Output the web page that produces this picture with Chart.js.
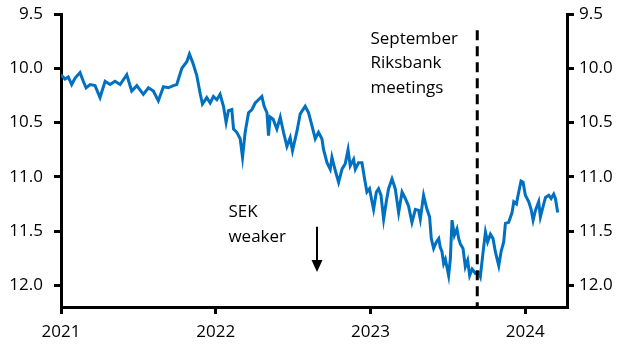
<!DOCTYPE html>
<html>
<head>
<meta charset="utf-8">
<script src="https://cdn.jsdelivr.net/npm/chart.js@4/dist/chart.umd.min.js"></script>
<style>
  html, body { margin: 0; padding: 0; background: #fff; }
  canvas { display: block; }
</style>
</head>
<body>
<canvas id="c" width="631" height="355"></canvas>
<script>
// ---- Data ----
// EUR/SEK, x = decimal year, y = rate (axis inverted: SEK weaker downward)
const dates = [
  2021.000, 2021.026, 2021.047, 2021.069, 2021.091, 2021.123, 2021.144, 2021.162, 2021.188, 2021.220,
  2021.252, 2021.285, 2021.317, 2021.349, 2021.382, 2021.425, 2021.457, 2021.490, 2021.532, 2021.565,
  2021.597, 2021.629, 2021.662, 2021.694, 2021.726, 2021.748, 2021.781, 2021.813, 2021.830, 2021.852,
  2021.878, 2021.899, 2021.914, 2021.942, 2021.964, 2021.985, 2022.007, 2022.028, 2022.050, 2022.067,
  2022.082, 2022.104, 2022.115, 2022.136, 2022.158, 2022.173, 2022.190, 2022.212, 2022.234, 2022.255,
  2022.276, 2022.298, 2022.313, 2022.331, 2022.341, 2022.352, 2022.371, 2022.395, 2022.417, 2022.438,
  2022.460, 2022.481, 2022.496, 2022.525, 2022.546, 2022.578, 2022.600, 2022.622, 2022.643, 2022.664,
  2022.686, 2022.697, 2022.719, 2022.740, 2022.751, 2022.772, 2022.794, 2022.816, 2022.837, 2022.855,
  2022.869, 2022.891, 2022.902, 2022.923, 2022.945, 2022.962, 2022.977, 2022.994, 2023.010, 2023.020,
  2023.038, 2023.052, 2023.068, 2023.085, 2023.102, 2023.117, 2023.139, 2023.160, 2023.182, 2023.204,
  2023.225, 2023.246, 2023.268, 2023.290, 2023.311, 2023.322, 2023.343, 2023.365, 2023.382, 2023.393,
  2023.408, 2023.426, 2023.441, 2023.451, 2023.462, 2023.473, 2023.484, 2023.505, 2023.516, 2023.527,
  2023.542, 2023.559, 2023.570, 2023.581, 2023.598, 2023.613, 2023.628, 2023.641, 2023.657, 2023.678,
  2023.699, 2023.710, 2023.728, 2023.743, 2023.757, 2023.775, 2023.792, 2023.807, 2023.829, 2023.844,
  2023.861, 2023.872, 2023.893, 2023.915, 2023.926, 2023.943, 2023.958, 2023.973, 2023.986, 2024.001,
  2024.023, 2024.038, 2024.051, 2024.066, 2024.087, 2024.098, 2024.116, 2024.131, 2024.152, 2024.167,
  2024.184, 2024.195, 2024.210
];
const eurSek = [
  10.06, 10.10, 10.08, 10.15, 10.09, 10.04, 10.12, 10.18, 10.15, 10.16,
  10.27, 10.12, 10.15, 10.12, 10.15, 10.06, 10.21, 10.16, 10.24, 10.18,
  10.21, 10.30, 10.17, 10.18, 10.16, 10.15, 10.00, 9.94, 9.87, 9.95,
  10.07, 10.23, 10.33, 10.27, 10.32, 10.26, 10.29, 10.24, 10.35, 10.50,
  10.39, 10.38, 10.56, 10.59, 10.65, 10.82, 10.59, 10.41, 10.38, 10.32,
  10.29, 10.26, 10.35, 10.41, 10.62, 10.45, 10.47, 10.56, 10.45, 10.59,
  10.72, 10.64, 10.76, 10.58, 10.42, 10.35, 10.41, 10.53, 10.65, 10.59,
  10.65, 10.75, 10.87, 10.93, 10.82, 10.94, 11.05, 10.93, 10.88, 10.75,
  10.90, 10.84, 10.93, 10.87, 10.87, 11.02, 11.14, 11.11, 11.23, 11.30,
  11.14, 11.11, 11.17, 11.39, 11.23, 11.11, 11.02, 11.11, 11.33, 11.14,
  11.20, 11.27, 11.42, 11.30, 11.31, 11.39, 11.17, 11.30, 11.37, 11.57,
  11.66, 11.60, 11.57, 11.65, 11.69, 11.80, 11.76, 11.91, 11.76, 11.40,
  11.54, 11.48, 11.57, 11.62, 11.66, 11.83, 11.77, 11.91, 11.85, 11.89,
  11.88, 11.92, 11.69, 11.51, 11.60, 11.53, 11.57, 11.69, 11.82, 11.69,
  11.60, 11.43, 11.42, 11.33, 11.23, 11.25, 11.14, 11.04, 11.05, 11.17,
  11.23, 11.30, 11.40, 11.31, 11.23, 11.37, 11.27, 11.19, 11.17, 11.20,
  11.16, 11.20, 11.33
];
const xTickYears = [2021, 2022, 2023, 2024];
const yTickValues = [9.5, 10.0, 10.5, 11.0, 11.5, 12.0];
const meetingDate = 2023.69;            // September Riksbank meeting
const meetingLineRange = [9.65, 12.2];  // vertical extent of dashed line
const meetingLabel = ['September', 'Riksbank', 'meetings'];
const meetingLabelPos = { x: 2023.0, y: 9.775 };
const sekLabel = ['SEK', 'weaker'];
const sekLabelPos = { x: 2022.082, y: 11.37 };
const arrowPos = { x: 2022.654, from: 11.46, to: 11.877 };

// ---- Chart ----
const FONT = '"Open Sans", "Noto Sans", sans-serif';
const annotPlugin = {
  id: 'annot',
  afterDatasetsDraw(chart) {
    const { ctx, scales: { x, y } } = chart;
    ctx.save();
    ctx.fillStyle = '#000';
    ctx.font = '17px ' + FONT;
    ctx.textBaseline = 'alphabetic';
    ctx.textAlign = 'left';
    const mx = x.getPixelForValue(meetingLabelPos.x);
    const my = y.getPixelForValue(meetingLabelPos.y);
    meetingLabel.forEach((t, i) => ctx.fillText(t, mx, my + i * 24.4));
    const sx = x.getPixelForValue(sekLabelPos.x);
    const sy = y.getPixelForValue(sekLabelPos.y);
    sekLabel.forEach((t, i) => ctx.fillText(t, sx, sy + i * 24.6));
    // arrow
    const ax = Math.round(x.getPixelForValue(arrowPos.x));
    const ay1 = y.getPixelForValue(arrowPos.from);
    const ay2 = y.getPixelForValue(arrowPos.to);
    ctx.strokeStyle = '#000';
    ctx.lineWidth = 2;
    ctx.beginPath(); ctx.moveTo(ax, ay1); ctx.lineTo(ax, ay2 - 10); ctx.stroke();
    ctx.beginPath();
    ctx.moveTo(ax - 5.5, ay2 - 12); ctx.lineTo(ax + 5.5, ay2 - 12); ctx.lineTo(ax, ay2);
    ctx.closePath(); ctx.fill();
    ctx.restore();
  }
};

const axisCommon = {
  border: { display: true, width: 3, color: '#000' },
  grid: { drawOnChartArea: false, drawTicks: true, tickLength: 7, lineWidth: 3, color: '#000' },
};

new Chart(document.getElementById('c'), {
  type: 'line',
  data: {
    datasets: [
      {
        data: dates.map((d, i) => ({ x: d, y: eurSek[i] })),
        borderColor: '#0070C0',
        borderWidth: 3,
        pointRadius: 0,
        tension: 0,
        yAxisID: 'y',
        order: 2
      },
      {
        data: [{ x: meetingDate, y: meetingLineRange[0] }, { x: meetingDate, y: meetingLineRange[1] }],
        borderColor: '#000',
        borderWidth: 3,
        borderDash: [10, 6],
        pointRadius: 0,
        yAxisID: 'y',
        clip: false,
        order: 1
      }
    ]
  },
  options: {
    responsive: false,
    animation: false,
    devicePixelRatio: 1,
    layout: { padding: { top: 14, left: 0, right: 0, bottom: 0 } },
    plugins: { legend: { display: false }, tooltip: { enabled: false } },
    scales: {
      x: {
        type: 'linear',
        min: 2021,
        max: 2024.27,
        ...axisCommon,
        afterBuildTicks: s => { s.ticks = xTickYears.map(v => ({ value: v })); },
        afterFit: s => { s.height = 48; s.paddingLeft = 0; s.paddingRight = 0; },
        ticks: {
          color: '#000', font: { family: FONT, size: 17 }, padding: 8,
          maxRotation: 0, callback: v => String(v)
        }
      },
      y: {
        type: 'linear',
        position: 'left',
        reverse: true,
        min: 9.5,
        max: 12.2,
        ...axisCommon,
        afterBuildTicks: s => { s.ticks = yTickValues.map(v => ({ value: v })); },
        afterFit: s => { s.width = 61; s.paddingTop = 0; s.paddingBottom = 0; },
        ticks: { color: '#000', font: { family: FONT, size: 17 }, padding: 11, callback: v => v.toFixed(1) }
      },
      y2: {
        type: 'linear',
        position: 'right',
        reverse: true,
        min: 9.5,
        max: 12.2,
        ...axisCommon,
        afterBuildTicks: s => { s.ticks = yTickValues.map(v => ({ value: v })); },
        afterFit: s => { s.width = 64; s.paddingTop = 0; s.paddingBottom = 0; },
        ticks: { color: '#000', font: { family: FONT, size: 17 }, padding: 5, callback: v => v.toFixed(1) }
      }
    }
  },
  plugins: [annotPlugin]
});
</script>
</body>
</html>
